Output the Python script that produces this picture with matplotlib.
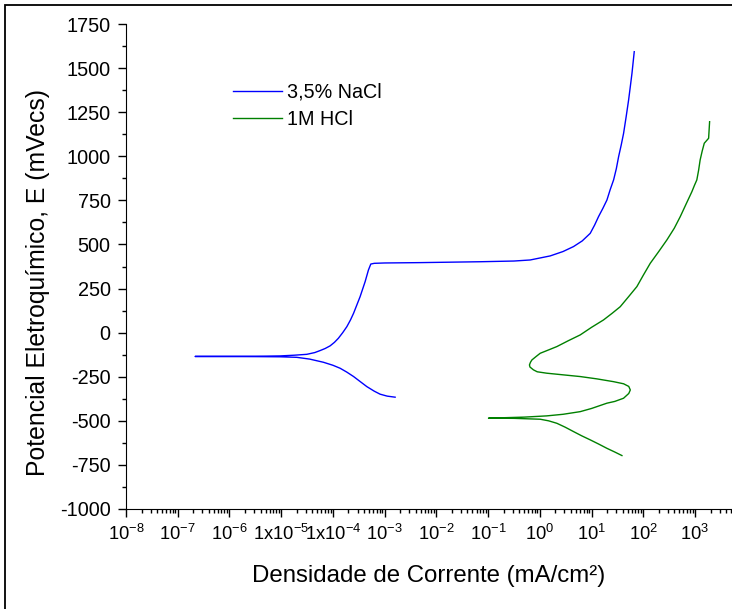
import numpy as np
import matplotlib
matplotlib.use("Agg")
import matplotlib.pyplot as plt
from matplotlib.ticker import FixedLocator, LogLocator, NullFormatter, MultipleLocator
from matplotlib.patches import Rectangle

plt.rcParams['font.family'] = ['Liberation Sans', 'DejaVu Sans']
plt.rcParams['mathtext.default'] = 'regular'

# 3,5% NaCl : log10(current density, mA/cm2) and potential (mV)
nacl_logi = [-2.797, -2.95, -3.087, -3.2, -3.344, -3.47, -3.60, -3.73, -3.86, -4.0,
             -4.183, -4.45, -4.698, -5.02, -5.5, -6.665,
             -5.5, -5.02, -4.75, -4.505, -4.35, -4.25, -4.15, -4.054, -3.97, -3.894,
             -3.81, -3.73, -3.66, -3.60, -3.474, -3.377, -3.313, -3.267, -3.2, -3.0,
             -2.313, -1.153, -0.5, -0.186, 0.201, 0.45, 0.652, 0.82, 0.975, 1.06,
             1.136, 1.22, 1.298, 1.36, 1.427, 1.48, 1.524, 1.575, 1.62, 1.67, 1.717,
             1.75, 1.782, 1.826]
nacl_E = [-366, -360, -349, -332, -306, -278, -249, -224, -202, -185,
          -168, -150, -140, -137, -136, -135,
          -134, -132, -128, -123, -113, -102, -90, -75, -55, -32,
          0, 34, 72, 110, 204, 289, 355, 389, 393, 395,
          397, 402, 406, 412, 435, 460, 488, 520, 563, 610,
          658, 705, 752, 810, 866, 930, 998, 1065, 1130, 1225, 1319,
          1395, 1470, 1593]

# 1M HCl
hcl_logi = [1.588, 1.45, 1.298, 1.14, 0.975, 0.81, 0.652, 0.49, 0.33, 0.17, 0.008,
            -0.5, -0.992,
            -0.3, 0.135, 0.45, 0.781, 1.0, 1.298, 1.45, 1.619, 1.72, 1.75, 1.72,
            1.62, 1.426, 1.1, 0.781, 0.135, -0.05, -0.123, -0.19, -0.2, -0.18,
            -0.153, -0.07, 0.008, 0.17, 0.33, 0.55, 0.781, 1.0, 1.232, 1.4, 1.555,
            1.72, 1.877, 2.0, 2.135, 2.3, 2.458, 2.6, 2.716, 2.83, 2.94, 2.99,
            3.036, 3.07, 3.10, 3.14, 3.18, 3.264, 3.283]
hcl_E = [-697, -677, -656, -632, -608, -585, -561, -536, -514, -500, -491,
         -486, -485,
         -479, -472, -463, -448, -430, -400, -390, -372, -345, -325, -305,
         -290, -278, -262, -249, -230, -222, -211, -195, -183, -168,
         -155, -135, -117, -98, -79, -46, -13, 30, 72, 110, 147,
         205, 261, 325, 393, 460, 526, 592, 658, 730, 799, 835,
         866, 920, 979, 1030, 1074, 1102, 1196]

xtick_exp = [-8, -7, -6, -5, -4, -3, -2, -1, 0, 1, 2, 3]
xtick_labels = ['10$^{-8}$', '10$^{-7}$', '10$^{-6}$', '1x10$^{-5}$', '1x10$^{-4}$',
                '10$^{-3}$', '10$^{-2}$', '10$^{-1}$', '10$^{0}$', '10$^{1}$',
                '10$^{2}$', '10$^{3}$']
yticks = [-1000, -750, -500, -250, 0, 250, 500, 750, 1000, 1250, 1500, 1750]
ytick_labels = ['-1000', '-750', '-500', '-250', '0', '250', '500', '750',
                '1000', '1250', '1500', '1750']

W, H = 732, 609
fig = plt.figure(figsize=(W / 100, H / 100), dpi=100)
ax = fig.add_axes([126 / W, 100 / H, (W - 126) / W, 485 / H])

ax.plot(10 ** np.array(nacl_logi), nacl_E, color='#0000ff', lw=1.0, label='3,5% NaCl')
ax.plot(10 ** np.array(hcl_logi), hcl_E, color='#008000', lw=1.0, label='1M HCl')

ax.set_xscale('log')
ax.set_xlim(1e-8, 10 ** 3.716)
ax.set_ylim(-1000, 1750)

ax.xaxis.set_major_locator(FixedLocator([10.0 ** e for e in xtick_exp]))
ax.set_xticklabels(xtick_labels)
ax.xaxis.set_minor_locator(LogLocator(base=10, subs=np.arange(2, 10), numticks=30))
ax.xaxis.set_minor_formatter(NullFormatter())
ax.set_yticks(yticks)
ax.set_yticklabels(ytick_labels)
ax.yaxis.set_minor_locator(MultipleLocator(125))

for s in ['top', 'right']:
    ax.spines[s].set_visible(False)
ax.tick_params(which='major', direction='out', length=6, width=1)
ax.tick_params(which='minor', direction='out', length=3, width=1)
ax.tick_params(axis='x', pad=5, labelsize=13.2)
ax.tick_params(axis='y', pad=5, labelsize=14.3)

ax.set_xlabel('Densidade de Corrente (mA/cm²)', fontsize=17.3, labelpad=15)
ax.set_ylabel('Potencial Eletroquímico, E (mVecs)', fontsize=17.8)
ax.yaxis.set_label_coords(-(126 - 50) / (W - 126), 0.468)

ax.legend(loc='upper left', bbox_to_anchor=(233 / W, 1 - 83 / H),
          bbox_transform=fig.transFigure, frameon=False, borderpad=0,
          borderaxespad=0, fontsize=14.2, handlelength=2.5, handletextpad=0.25,
          labelspacing=0.4)

fig.patches.append(Rectangle((5 / W, -0.5), 2, 0.5 + 1 - 5 / H, transform=fig.transFigure,
                             fill=False, edgecolor='black', lw=1.3, clip_on=False))

fig.savefig('out.png', dpi=100)
